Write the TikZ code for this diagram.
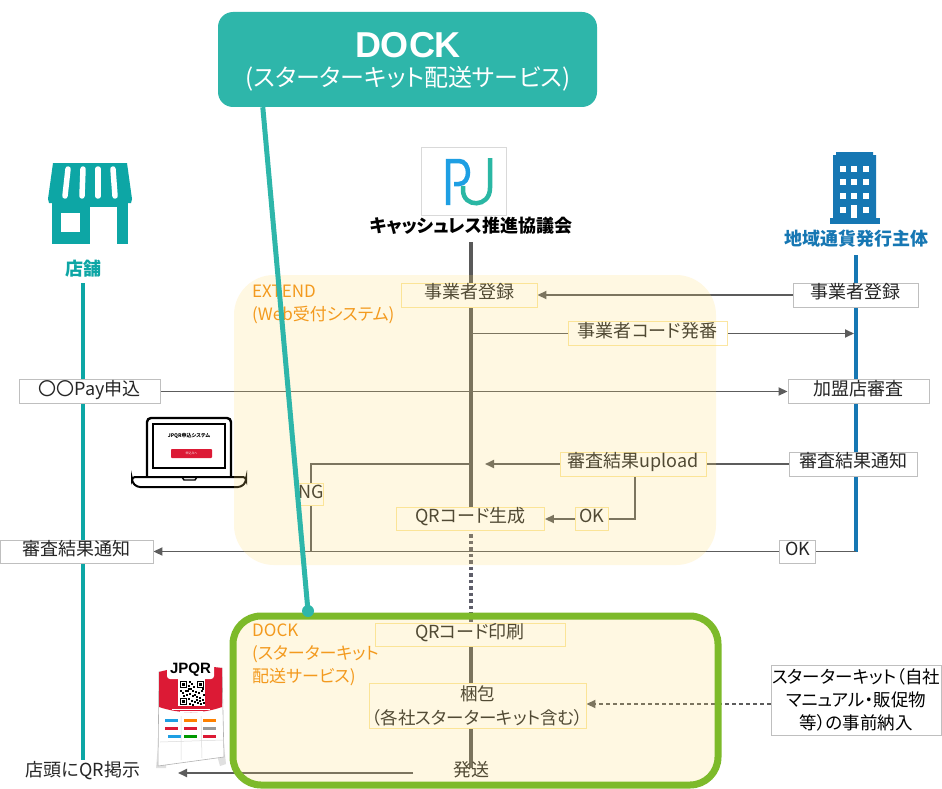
\documentclass[tikz,border=0pt]{standalone}
\usepackage{fontspec}
\usetikzlibrary{arrows.meta}
\newfontfamily\jp{Noto Sans CJK JP}[RawFeature=+palt]
\newfontfamily\latinb{Liberation Sans}
\definecolor{linegray}{HTML}{5C5C5C}
\definecolor{boxgray}{HTML}{BFBFBF}
\definecolor{paleyel}{HTML}{FBE6A2}
\definecolor{txtcol}{HTML}{262626}
\definecolor{storeteal}{HTML}{0DA6A5}
\definecolor{govblue}{HTML}{1677B3}
\definecolor{topteal}{HTML}{2EB6AA}
\definecolor{zoneyel}{HTML}{FFDC6E}
\definecolor{dockgreen}{HTML}{7DBA2A}
\definecolor{zoneorange}{HTML}{F39A1E}
\definecolor{mainln}{HTML}{595959}
\definecolor{dotgray}{HTML}{5E5E6A}
\definecolor{pjblue}{HTML}{1E9FE3}
\definecolor{pjteal}{HTML}{2AB7A4}
\definecolor{qrred}{HTML}{DC1A35}
\newcommand\boxfont{\jp\fontsize{18}{23}\selectfont}
\newcommand\rolefont{\jp\bfseries\fontsize{18}{22}\selectfont}
\pgfdeclarelayer{bg}\pgfdeclarelayer{lines}\pgfdeclarelayer{zone}\pgfdeclarelayer{front}
\pgfsetlayers{bg,lines,main,zone,front}
\begin{document}
\begin{tikzpicture}[x=1pt,y=-1pt,
  ln/.style={draw=linegray, line width=1.8pt},
  arr/.style={ln, -{Triangle[length=9pt,width=8pt]}},
  onetxt/.style={text height=.83em, text depth=.075em},
  wbox/.style={draw=boxgray, line width=0.9pt, fill=white, inner sep=0pt,
    minimum height=24pt, text=txtcol, font=\boxfont, onetxt},
  ibox/.style={wbox, draw=paleyel},
  role/.style={font=\rolefont, inner sep=0pt, onetxt},
  lifeln/.style={line width=3.8pt},
  zfill/.style={fill=zoneyel, fill opacity=0.2},
  zlabel/.style={font=\jp\fontsize{17}{23}\selectfont, text=zoneorange, inner sep=0pt, align=left}
]
\useasboundingbox (0,0) rectangle (942,789);
\begin{pgfonlayer}{bg}
  \fill[white] (0,0) rectangle (942,789);
\end{pgfonlayer}

% ---------- shop icon ----------
\fill[storeteal] (53,163) -- (127,163) -- (132,199) -- (131,203) -- (49,203) -- (48,199) -- cycle;
\fill[storeteal] (52,201) rectangle (128,244);
\foreach \a/\b in {68/65, 83/82, 98/98, 113/115}
  \draw[white, line width=5.5pt, line cap=round] (\a,169) -- (\b,196);
\fill[white] (61,213) rectangle (80,232);
\fill[white] (90,207) rectangle (117,244.5);

% ---------- issuer building icon ----------
\fill[govblue] (836,152) -- (873,152) -- (873,155) -- (876,155) -- (876,218) -- (833,218) -- (833,155) -- (836,155) -- cycle;
\fill[govblue] (830,218) rectangle (880,224);
\foreach \cx in {843,854,866}
  \foreach \cy in {169,182,196}
    \fill[white] (\cx-2.6,\cy-2.6) rectangle (\cx+2.6,\cy+2.6);
\foreach \cx in {843,866}
  \fill[white] (\cx-2.6,207.4) rectangle (\cx+2.6,212.6);
\fill[white] (851.4,205) rectangle (856.6,218);

% ---------- council logo ----------
\draw[draw=black!15, line width=0.7pt] (421,147) rectangle (506,215);
\draw[pjblue, line width=4.5pt] (448,205) -- (448,161) -- (459,161)
  .. controls (471,161) and (471,184) .. (459,184) -- (454,184);
\draw[pjteal, line width=4.5pt] (490,158) -- (490,188)
  .. controls (490,208) and (463,208) .. (463,190) -- (463,186);

% ---------- laptop ----------
\draw[black, line width=2.4pt, rounded corners=4pt] (147,476) -- (147,418) -- (231,418) -- (231,476);
\draw[black, line width=1.6pt] (153,424) rectangle (225,468);
\draw[black, line width=2pt, rounded corners=3pt] (132,477) -- (246,477) -- (246,482) -- (241,487) -- (137,487) -- (132,482) -- cycle;
\draw[black, line width=1.4pt] (182,477) -- (184,480) -- (195,480) -- (197,477);
\node[font=\jp\bfseries\fontsize{5}{6}\selectfont, inner sep=0pt] (lapTitle) at (189,436) {JPQR申込システム};
\fill[qrred, rounded corners=0.8pt] (171,449) rectangle (212,458);
\node[font=\jp\fontsize{3}{3}\selectfont, text=white, inner sep=0pt] (lapBtn) at (191.5,453.5) {申込みへ};

% ---------- JPQR stand ----------
\fill[black!12] (158,745) -- (156,768) -- (166,768) -- (168,748) -- cycle;
\fill[black!12] (214,745) -- (220,766) -- (226,764) -- (224,745) -- cycle;
\filldraw[fill=white, draw=black!30, line width=0.6pt] (159,672) -- (222,668) -- (224,757) -- (158,766) -- cycle;
\fill[qrred] (159,672) .. controls (180,666) and (201,665) .. (222,668) -- (222,707)
  .. controls (202,714) and (180,714) .. (159,707) -- cycle;
\fill[white] (178,679) rectangle (205,706);
\foreach \qx/\qy in {180/681, 197/681, 180/698}{
  \draw[black, line width=1pt] (\qx+0.5,\qy+0.5) rectangle (\qx+6.5,\qy+6.5);
  \fill[black] (\qx+2,\qy+2) rectangle (\qx+5,\qy+5);}
\foreach \qx/\qy in {189/681,191/683,188/685,193/686,190/688,187/690,192/690,195/691,
    198/692,201/690,203/694,189/693,192/695,196/696,199/697,202/699,188/698,191/700,
    194/701,197/702,200/703,203/702,189/703,192/704,196/699,199/700,185/690,182/692,
    180/690,186/694,183/695,202/688,188/688,194/694}
  \fill[black] (\qx,\qy) rectangle ++(1.8,1.8);
\fill[white] (172,709.4) rectangle (210,710.4);
\fill[white] (180,711.4) rectangle (203,712.2);
\fill[white, rounded corners=3pt] (167,659) rectangle (214,679);
\node[font=\latinb\bfseries\fontsize{15}{15}\selectfont, inner sep=0pt] (jpqrLogo) at (190.5,669.5) {JPQR};
\foreach \lx/\ly/\lc in {165/719/pjblue, 184/719/orange, 203/719/orange,
   165/727/qrred, 184/727/qrred, 203/727/black!40,
   168/735/pjblue, 184/735/green!60!black, 203/735/qrred}
  \fill[\lc] (\lx,\ly) rectangle ++(13,2.6);
\draw[black!15, line width=0.5pt] (160,742) -- (223,740);
\draw[black!15, line width=0.5pt] (181,716) -- (181,760) (201,716) -- (202,758);

% ---------- labels under icons ----------
\node[role, text=storeteal] (shopL) at (83,272) {店舗};
\node[role, text=black] (pjL) at (471,229) {キャッシュレス推進協議会};
\node[role, text=govblue] (govL) at (856,242) {地域通貨発行主体};

% ---------- lifeline end points ----------
\coordinate (sTop) at (83,283);
\coordinate (sBot) at (83,760);
\coordinate (mTop) at (471,242);
\coordinate (gTop) at (856,255);
\coordinate (gBot) at (856,551.5);
\coordinate (codeJoin) at (471,333.5);
\coordinate (codeTip) at (854,333.5);
\coordinate (upTip) at (485,464);
\coordinate (ngJoin) at (471,464);
\coordinate (shipStart) at (413,773);
\coordinate (shipTip) at (178,773);

% ---------- message boxes ----------
\node[wbox, minimum width=125] (regR) at (855.5,295) {事業者登録};
\node[ibox, minimum width=136] (regL) at (469,295) {事業者登録};
\node[ibox, minimum width=159] (codeB) at (647.5,333.5) {事業者コード発番};
\node[wbox, minimum width=141] (payB) at (89.5,391.5) {〇〇Pay申込};
\node[wbox, minimum width=141] (chkB) at (858.5,391.5) {加盟店審査};
\node[wbox, minimum width=128] (resR) at (853,464) {審査結果通知};
\node[ibox, minimum width=146] (upB) at (633,464) {審査結果upload};
\node[ibox, minimum width=33, minimum height=23] (okA) at (591.5,519) {OK};
\node[ibox, minimum width=148, minimum height=23] (qrB) at (470.5,519) {QRコード生成};
\node[ibox, minimum width=24, minimum height=22] (ngB) at (311,494.5) {NG};
\node[wbox, minimum width=36, minimum height=23] (okB) at (797.5,551.5) {OK};
\node[wbox, minimum width=153, minimum height=23] (resL) at (76.5,551.5) {審査結果通知};
\node[ibox, minimum width=190, minimum height=23] (prB) at (470,635) {QRコード印刷};
\node[ibox, minimum width=217, minimum height=45, align=center, text height=, text depth=,
  font=\jp\fontsize{17.5}{24}\selectfont] (pkB) at (477.5,705.5) {梱包\\（各社スターターキット含む）};
\node[font=\boxfont, text=txtcol, inner sep=0pt, onetxt] (shipT) at (471,773) {発送};
\node[wbox, minimum width=170, minimum height=70, align=center, text height=, text depth=, text=black,
  font=\jp\fontsize{17.5}{23}\selectfont] (kitB) at (856,700) {スターターキット（自社\\マニュアル・販促物\\等）の事前納入};
\node[font=\boxfont, text=txtcol, inner sep=0pt, onetxt] (dispT) at (83,773) {店頭にQR掲示};

% ---------- lifelines and messages ----------
\begin{pgfonlayer}{lines}
  \draw[storeteal, lifeln] (sTop) -- (sBot);
  \draw[govblue, lifeln] (gTop) -- (gBot);
  \draw[mainln, lifeln] (mTop) -- (mTop |- qrB.center);
  \draw[dotgray, lifeln, dash pattern=on 3.5pt off 3pt] ([yshift=3]mTop |- qrB.south) -- (mTop |- prB.north);
  \draw[mainln, lifeln] (mTop |- prB.south) -- (mTop |- pkB.north);
  \draw[mainln, lifeln] (mTop |- pkB.south) -- (mTop |- shipT.north);
  \draw[arr] (regR.west) -- (regL.east);
  \draw[ln] (codeJoin) -- (codeB.west);
  \draw[arr] (codeB.east) -- (codeTip);
  \draw[arr] (payB.east) -- (chkB.west);
  \draw[ln] (resR.west) -- (upB.east);
  \draw[arr] (upB.west) -- (upTip);
  \draw[ln] ([xshift=2]upB.south) |- (okA.east);
  \draw[arr] (okA.west) -- (qrB.east);
  \draw[ln] (ngJoin) -| (ngB.center |- okB.center);
  \draw[ln] (gBot) -- (okB.east);
  \draw[arr] (okB.west) -- (resL.east);
  \draw[arr, dash pattern=on 4pt off 3pt] (kitB.west |- 0,704) -- (pkB.east |- 0,704);
  \draw[arr] (shipStart) -- (shipTip);
\end{pgfonlayer}

% ---------- system zones ----------
\begin{pgfonlayer}{zone}
  \fill[zfill, rounded corners=40pt] (234,275) rectangle (716,565);
  \fill[zfill, rounded corners=28pt] (233,616) rectangle (718,785);
\end{pgfonlayer}

\begin{pgfonlayer}{front}
  \draw[dockgreen, line width=7pt, rounded corners=28pt] (233,616) rectangle (718,785);
  \node[zlabel, anchor=north west] (extL) at (252,285) {EXTEND\\(Web受付システム)};
  \node[zlabel, anchor=north west] (dockL) at (252,624) {DOCK\\(スターターキット\\配送サービス)};
  % callout for the delivery service
  \node[fill=topteal, rounded corners=15pt, minimum width=379, minimum height=95, inner sep=0pt] (topB) at (407.5,59.5) {};
  \node[font=\latinb\bfseries\fontsize{36}{40}\selectfont, text=white, inner sep=0pt] (topT1) at (408,45) {DOCK};
  \node[font=\jp\fontsize{24}{28}\selectfont, text=white, inner sep=0pt, onetxt] (topT2) at (408,83) {(スターターキット配送サービス)};
  \coordinate (pinTop) at ([xshift=45]topB.south west);
  \coordinate (pinEnd) at (308,611);
  \draw[topteal, line width=5pt] (pinTop) -- (pinEnd);
  \fill[topteal] (pinEnd) circle (6pt);
\end{pgfonlayer}
\end{tikzpicture}
\end{document}
